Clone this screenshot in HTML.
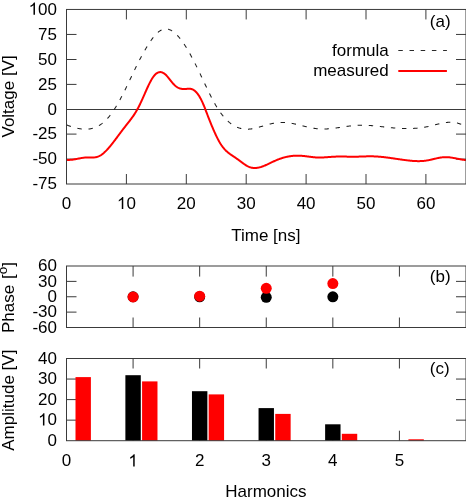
<!DOCTYPE html>
<html><head><meta charset="utf-8"><style>
html,body{margin:0;padding:0;background:#fff;}
body{width:466px;height:503px;overflow:hidden;}
svg{display:block;font-family:"Liberation Sans", sans-serif;fill:#000;will-change:transform;}
</style></head><body>
<svg width="466" height="503" viewBox="0 0 466 503">
<rect width="466" height="503" fill="#fff"/>
<line x1="66.50" y1="109.50" x2="466.00" y2="109.50" stroke="#3a3a3a" stroke-width="1.00"/>
<text x="32.43" y="189.30" text-anchor="start" font-size="17">-75</text>
<line x1="66.50" y1="159.10" x2="76.50" y2="159.10" stroke="#3a3a3a" stroke-width="1.00"/>
<line x1="456.00" y1="159.10" x2="466.00" y2="159.10" stroke="#3a3a3a" stroke-width="1.00"/>
<text x="32.43" y="164.40" text-anchor="start" font-size="17">-50</text>
<line x1="66.50" y1="134.10" x2="76.50" y2="134.10" stroke="#3a3a3a" stroke-width="1.00"/>
<line x1="456.00" y1="134.10" x2="466.00" y2="134.10" stroke="#3a3a3a" stroke-width="1.00"/>
<text x="32.43" y="139.40" text-anchor="start" font-size="17">-25</text>
<text x="47.55" y="114.70" text-anchor="start" font-size="17">0</text>
<line x1="66.50" y1="84.40" x2="76.50" y2="84.40" stroke="#3a3a3a" stroke-width="1.00"/>
<line x1="456.00" y1="84.40" x2="466.00" y2="84.40" stroke="#3a3a3a" stroke-width="1.00"/>
<text x="38.09" y="89.70" text-anchor="start" font-size="17">25</text>
<line x1="66.50" y1="59.50" x2="76.50" y2="59.50" stroke="#3a3a3a" stroke-width="1.00"/>
<line x1="456.00" y1="59.50" x2="466.00" y2="59.50" stroke="#3a3a3a" stroke-width="1.00"/>
<text x="38.09" y="64.80" text-anchor="start" font-size="17">50</text>
<line x1="66.50" y1="34.45" x2="76.50" y2="34.45" stroke="#3a3a3a" stroke-width="1.00"/>
<line x1="456.00" y1="34.45" x2="466.00" y2="34.45" stroke="#3a3a3a" stroke-width="1.00"/>
<text x="38.09" y="39.75" text-anchor="start" font-size="17">75</text>
<path d="M763,0 L583,0 L583,1147 Q518,1085 412.5,1023 Q307,961 223,930 L223,1104 Q374,1175 484.5,1273.5 Q595,1372 643,1466 L763,1466 Z" transform="translate(28.636,14.750) scale(0.008301,-0.008301)"/>
<text x="38.09" y="14.75" text-anchor="start" font-size="17">00</text>
<text x="61.77" y="209.10" text-anchor="start" font-size="17">0</text>
<line x1="126.40" y1="184.00" x2="126.40" y2="174.00" stroke="#3a3a3a" stroke-width="1.00"/>
<line x1="126.40" y1="9.45" x2="126.40" y2="19.45" stroke="#3a3a3a" stroke-width="1.00"/>
<path d="M763,0 L583,0 L583,1147 Q518,1085 412.5,1023 Q307,961 223,930 L223,1104 Q374,1175 484.5,1273.5 Q595,1372 643,1466 L763,1466 Z" transform="translate(116.945,209.100) scale(0.008301,-0.008301)"/>
<text x="126.40" y="209.10" text-anchor="start" font-size="17">0</text>
<line x1="186.30" y1="184.00" x2="186.30" y2="174.00" stroke="#3a3a3a" stroke-width="1.00"/>
<line x1="186.30" y1="9.45" x2="186.30" y2="19.45" stroke="#3a3a3a" stroke-width="1.00"/>
<text x="176.85" y="209.10" text-anchor="start" font-size="17">20</text>
<line x1="246.20" y1="184.00" x2="246.20" y2="174.00" stroke="#3a3a3a" stroke-width="1.00"/>
<line x1="246.20" y1="9.45" x2="246.20" y2="19.45" stroke="#3a3a3a" stroke-width="1.00"/>
<text x="236.75" y="209.10" text-anchor="start" font-size="17">30</text>
<line x1="306.10" y1="184.00" x2="306.10" y2="174.00" stroke="#3a3a3a" stroke-width="1.00"/>
<line x1="306.10" y1="9.45" x2="306.10" y2="19.45" stroke="#3a3a3a" stroke-width="1.00"/>
<text x="296.65" y="209.10" text-anchor="start" font-size="17">40</text>
<line x1="366.00" y1="184.00" x2="366.00" y2="174.00" stroke="#3a3a3a" stroke-width="1.00"/>
<line x1="366.00" y1="9.45" x2="366.00" y2="19.45" stroke="#3a3a3a" stroke-width="1.00"/>
<text x="356.55" y="209.10" text-anchor="start" font-size="17">50</text>
<line x1="425.90" y1="184.00" x2="425.90" y2="174.00" stroke="#3a3a3a" stroke-width="1.00"/>
<line x1="425.90" y1="9.45" x2="425.90" y2="19.45" stroke="#3a3a3a" stroke-width="1.00"/>
<text x="416.45" y="209.10" text-anchor="start" font-size="17">60</text>
<path d="M66.50,124.93 L67.00,125.11 L67.50,125.29 L68.00,125.46 L68.50,125.64 L69.00,125.81 L69.50,125.98 L70.00,126.15 L70.50,126.32 L71.00,126.48 L71.50,126.64 L72.00,126.80 L72.50,126.96 L73.00,127.11 L73.50,127.26 L74.00,127.40 L74.50,127.54 L75.00,127.68 L75.50,127.81 L76.00,127.94 L76.50,128.06 L77.00,128.18 L77.50,128.29 L78.00,128.40 L78.50,128.50 L79.00,128.59 L79.50,128.68 L80.00,128.77 L80.50,128.85 L81.00,128.92 L81.50,128.98 L82.00,129.04 L82.50,129.09 L83.00,129.14 L83.50,129.17 L84.00,129.20 L84.50,129.22 L85.00,129.23 L85.50,129.24 L86.00,129.24 L86.50,129.22 L87.00,129.20 L87.50,129.17 L88.00,129.13 L88.50,129.09 L89.00,129.03 L89.50,128.96 L90.00,128.88 L90.50,128.80 L91.00,128.70 L91.50,128.59 L92.00,128.47 L92.50,128.34 L93.00,128.20 L93.50,128.05 L94.00,127.89 L94.50,127.71 L95.00,127.52 L95.50,127.33 L96.00,127.12 L96.50,126.89 L97.00,126.66 L97.50,126.41 L98.00,126.15 L98.50,125.87 L99.00,125.58 L99.50,125.28 L100.00,124.97 L100.50,124.64 L101.00,124.30 L101.50,123.94 L102.00,123.57 L102.50,123.18 L103.00,122.78 L103.50,122.36 L104.00,121.93 L104.50,121.48 L105.00,121.02 L105.50,120.54 L106.00,120.05 L106.50,119.54 L107.00,119.01 L107.50,118.47 L108.00,117.91 L108.50,117.33 L109.00,116.73 L109.50,116.12 L110.00,115.49 L110.50,114.85 L111.00,114.18 L111.50,113.50 L112.00,112.80 L112.50,112.09 L113.00,111.36 L113.50,110.61 L114.00,109.85 L114.50,109.07 L115.00,108.28 L115.50,107.48 L116.00,106.66 L116.50,105.83 L117.00,104.98 L117.50,104.12 L118.00,103.25 L118.50,102.37 L119.00,101.47 L119.50,100.57 L120.00,99.65 L120.50,98.72 L121.00,97.79 L121.50,96.84 L122.00,95.88 L122.50,94.91 L123.00,93.94 L123.50,92.95 L124.00,91.96 L124.50,90.96 L125.00,89.95 L125.50,88.93 L126.00,87.91 L126.50,86.88 L127.00,85.85 L127.50,84.81 L128.00,83.77 L128.50,82.73 L129.00,81.68 L129.50,80.63 L130.00,79.58 L130.50,78.52 L131.00,77.47 L131.50,76.42 L132.00,75.37 L132.50,74.32 L133.00,73.27 L133.50,72.22 L134.00,71.18 L134.50,70.14 L135.00,69.11 L135.50,68.08 L136.00,67.05 L136.50,66.04 L137.00,65.03 L137.50,64.02 L138.00,63.02 L138.50,62.03 L139.00,61.05 L139.50,60.08 L140.00,59.11 L140.50,58.16 L141.00,57.21 L141.50,56.28 L142.00,55.35 L142.50,54.44 L143.00,53.53 L143.50,52.63 L144.00,51.75 L144.50,50.87 L145.00,50.00 L145.50,49.15 L146.00,48.30 L146.50,47.46 L147.00,46.63 L147.50,45.82 L148.00,45.01 L148.50,44.22 L149.00,43.44 L149.50,42.68 L150.00,41.93 L150.50,41.19 L151.00,40.47 L151.50,39.76 L152.00,39.08 L152.50,38.41 L153.00,37.75 L153.50,37.12 L154.00,36.50 L154.50,35.91 L155.00,35.33 L155.50,34.78 L156.00,34.24 L156.50,33.73 L157.00,33.25 L157.50,32.78 L158.00,32.34 L158.50,31.92 L159.00,31.53 L159.50,31.17 L160.00,30.83 L160.50,30.52 L161.00,30.23 L161.50,29.98 L162.00,29.75 L162.50,29.56 L163.00,29.39 L163.50,29.25 L164.00,29.13 L164.50,29.05 L165.00,28.99 L165.50,28.96 L166.00,28.96 L166.50,28.98 L167.00,29.03 L167.50,29.11 L168.00,29.21 L168.50,29.34 L169.00,29.49 L169.50,29.66 L170.00,29.86 L170.50,30.09 L171.00,30.33 L171.50,30.60 L172.00,30.90 L172.50,31.21 L173.00,31.55 L173.50,31.91 L174.00,32.29 L174.50,32.69 L175.00,33.12 L175.50,33.56 L176.00,34.03 L176.50,34.51 L177.00,35.01 L177.50,35.54 L178.00,36.08 L178.50,36.64 L179.00,37.22 L179.50,37.81 L180.00,38.43 L180.50,39.06 L181.00,39.70 L181.50,40.37 L182.00,41.05 L182.50,41.75 L183.00,42.46 L183.50,43.19 L184.00,43.93 L184.50,44.69 L185.00,45.46 L185.50,46.24 L186.00,47.04 L186.50,47.85 L187.00,48.68 L187.50,49.52 L188.00,50.37 L188.50,51.23 L189.00,52.10 L189.50,52.99 L190.00,53.88 L190.50,54.79 L191.00,55.71 L191.50,56.63 L192.00,57.57 L192.50,58.51 L193.00,59.47 L193.50,60.43 L194.00,61.40 L194.50,62.38 L195.00,63.37 L195.50,64.37 L196.00,65.37 L196.50,66.38 L197.00,67.39 L197.50,68.41 L198.00,69.44 L198.50,70.47 L199.00,71.51 L199.50,72.55 L200.00,73.59 L200.50,74.64 L201.00,75.70 L201.50,76.75 L202.00,77.81 L202.50,78.87 L203.00,79.93 L203.50,81.00 L204.00,82.06 L204.50,83.12 L205.00,84.18 L205.50,85.23 L206.00,86.29 L206.50,87.34 L207.00,88.39 L207.50,89.43 L208.00,90.46 L208.50,91.49 L209.00,92.52 L209.50,93.53 L210.00,94.54 L210.50,95.54 L211.00,96.53 L211.50,97.51 L212.00,98.47 L212.50,99.43 L213.00,100.37 L213.50,101.31 L214.00,102.23 L214.50,103.13 L215.00,104.02 L215.50,104.89 L216.00,105.75 L216.50,106.59 L217.00,107.42 L217.50,108.22 L218.00,109.01 L218.50,109.78 L219.00,110.54 L219.50,111.27 L220.00,111.99 L220.50,112.69 L221.00,113.37 L221.50,114.04 L222.00,114.69 L222.50,115.33 L223.00,115.94 L223.50,116.55 L224.00,117.13 L224.50,117.70 L225.00,118.25 L225.50,118.79 L226.00,119.31 L226.50,119.82 L227.00,120.31 L227.50,120.79 L228.00,121.25 L228.50,121.70 L229.00,122.13 L229.50,122.55 L230.00,122.95 L230.50,123.34 L231.00,123.72 L231.50,124.08 L232.00,124.43 L232.50,124.76 L233.00,125.08 L233.50,125.39 L234.00,125.68 L234.50,125.97 L235.00,126.23 L235.50,126.49 L236.00,126.73 L236.50,126.96 L237.00,127.18 L237.50,127.39 L238.00,127.58 L238.50,127.77 L239.00,127.94 L239.50,128.10 L240.00,128.24 L240.50,128.38 L241.00,128.51 L241.50,128.62 L242.00,128.73 L242.50,128.82 L243.00,128.90 L243.50,128.97 L244.00,129.04 L244.50,129.09 L245.00,129.13 L245.50,129.16 L246.00,129.19 L246.50,129.20 L247.00,129.21 L247.50,129.20 L248.00,129.19 L248.50,129.16 L249.00,129.13 L249.50,129.09 L250.00,129.05 L250.50,128.99 L251.00,128.93 L251.50,128.86 L252.00,128.78 L252.50,128.70 L253.00,128.61 L253.50,128.51 L254.00,128.41 L254.50,128.31 L255.00,128.19 L255.50,128.08 L256.00,127.96 L256.50,127.83 L257.00,127.70 L257.50,127.57 L258.00,127.44 L258.50,127.30 L259.00,127.16 L259.50,127.02 L260.00,126.87 L260.50,126.72 L261.00,126.58 L261.50,126.43 L262.00,126.28 L262.50,126.13 L263.00,125.98 L263.50,125.82 L264.00,125.67 L264.50,125.52 L265.00,125.38 L265.50,125.23 L266.00,125.08 L266.50,124.94 L267.00,124.80 L267.50,124.66 L268.00,124.52 L268.50,124.39 L269.00,124.26 L269.50,124.13 L270.00,124.01 L270.50,123.89 L271.00,123.78 L271.50,123.67 L272.00,123.56 L272.50,123.46 L273.00,123.37 L273.50,123.28 L274.00,123.19 L274.50,123.11 L275.00,123.03 L275.50,122.96 L276.00,122.89 L276.50,122.83 L277.00,122.77 L277.50,122.72 L278.00,122.67 L278.50,122.63 L279.00,122.59 L279.50,122.56 L280.00,122.53 L280.50,122.50 L281.00,122.49 L281.50,122.48 L282.00,122.47 L282.50,122.47 L283.00,122.47 L283.50,122.48 L284.00,122.49 L284.50,122.51 L285.00,122.54 L285.50,122.57 L286.00,122.61 L286.50,122.65 L287.00,122.70 L287.50,122.75 L288.00,122.80 L288.50,122.87 L289.00,122.93 L289.50,123.00 L290.00,123.08 L290.50,123.15 L291.00,123.24 L291.50,123.32 L292.00,123.41 L292.50,123.50 L293.00,123.60 L293.50,123.70 L294.00,123.80 L294.50,123.90 L295.00,124.01 L295.50,124.12 L296.00,124.23 L296.50,124.34 L297.00,124.45 L297.50,124.57 L298.00,124.69 L298.50,124.81 L299.00,124.93 L299.50,125.05 L300.00,125.17 L300.50,125.30 L301.00,125.42 L301.50,125.54 L302.00,125.67 L302.50,125.79 L303.00,125.92 L303.50,126.04 L304.00,126.16 L304.50,126.29 L305.00,126.41 L305.50,126.53 L306.00,126.65 L306.50,126.77 L307.00,126.89 L307.50,127.01 L308.00,127.12 L308.50,127.23 L309.00,127.35 L309.50,127.45 L310.00,127.56 L310.50,127.67 L311.00,127.77 L311.50,127.87 L312.00,127.96 L312.50,128.05 L313.00,128.14 L313.50,128.23 L314.00,128.31 L314.50,128.39 L315.00,128.46 L315.50,128.53 L316.00,128.60 L316.50,128.66 L317.00,128.72 L317.50,128.77 L318.00,128.82 L318.50,128.86 L319.00,128.90 L319.50,128.93 L320.00,128.96 L320.50,128.98 L321.00,129.00 L321.50,129.01 L322.00,129.02 L322.50,129.03 L323.00,129.03 L323.50,129.03 L324.00,129.02 L324.50,129.01 L325.00,129.00 L325.50,128.98 L326.00,128.96 L326.50,128.94 L327.00,128.91 L327.50,128.88 L328.00,128.85 L328.50,128.81 L329.00,128.77 L329.50,128.73 L330.00,128.69 L330.50,128.64 L331.00,128.59 L331.50,128.54 L332.00,128.49 L332.50,128.43 L333.00,128.37 L333.50,128.31 L334.00,128.25 L334.50,128.19 L335.00,128.13 L335.50,128.06 L336.00,127.99 L336.50,127.92 L337.00,127.85 L337.50,127.78 L338.00,127.71 L338.50,127.64 L339.00,127.56 L339.50,127.49 L340.00,127.42 L340.50,127.34 L341.00,127.26 L341.50,127.19 L342.00,127.11 L342.50,127.04 L343.00,126.96 L343.50,126.89 L344.00,126.81 L344.50,126.74 L345.00,126.66 L345.50,126.59 L346.00,126.52 L346.50,126.44 L347.00,126.37 L347.50,126.30 L348.00,126.23 L348.50,126.17 L349.00,126.10 L349.50,126.03 L350.00,125.97 L350.50,125.91 L351.00,125.85 L351.50,125.79 L352.00,125.74 L352.50,125.68 L353.00,125.63 L353.50,125.58 L354.00,125.53 L354.50,125.49 L355.00,125.45 L355.50,125.41 L356.00,125.37 L356.50,125.34 L357.00,125.31 L357.50,125.28 L358.00,125.25 L358.50,125.23 L359.00,125.22 L359.50,125.20 L360.00,125.19 L360.50,125.18 L361.00,125.17 L361.50,125.17 L362.00,125.17 L362.50,125.17 L363.00,125.18 L363.50,125.19 L364.00,125.20 L364.50,125.21 L365.00,125.23 L365.50,125.24 L366.00,125.26 L366.50,125.29 L367.00,125.31 L367.50,125.34 L368.00,125.37 L368.50,125.40 L369.00,125.43 L369.50,125.46 L370.00,125.50 L370.50,125.54 L371.00,125.57 L371.50,125.62 L372.00,125.66 L372.50,125.70 L373.00,125.75 L373.50,125.79 L374.00,125.84 L374.50,125.89 L375.00,125.94 L375.50,125.99 L376.00,126.04 L376.50,126.09 L377.00,126.15 L377.50,126.20 L378.00,126.25 L378.50,126.31 L379.00,126.37 L379.50,126.42 L380.00,126.48 L380.50,126.54 L381.00,126.59 L381.50,126.65 L382.00,126.71 L382.50,126.77 L383.00,126.82 L383.50,126.88 L384.00,126.94 L384.50,127.00 L385.00,127.06 L385.50,127.11 L386.00,127.17 L386.50,127.23 L387.00,127.28 L387.50,127.34 L388.00,127.39 L388.50,127.45 L389.00,127.50 L389.50,127.55 L390.00,127.60 L390.50,127.65 L391.00,127.70 L391.50,127.75 L392.00,127.80 L392.50,127.85 L393.00,127.89 L393.50,127.94 L394.00,127.98 L394.50,128.02 L395.00,128.06 L395.50,128.10 L396.00,128.14 L396.50,128.17 L397.00,128.21 L397.50,128.24 L398.00,128.27 L398.50,128.30 L399.00,128.33 L399.50,128.36 L400.00,128.39 L400.50,128.41 L401.00,128.43 L401.50,128.46 L402.00,128.48 L402.50,128.49 L403.00,128.51 L403.50,128.52 L404.00,128.54 L404.50,128.55 L405.00,128.56 L405.50,128.56 L406.00,128.57 L406.50,128.57 L407.00,128.58 L407.50,128.58 L408.00,128.57 L408.50,128.57 L409.00,128.56 L409.50,128.55 L410.00,128.54 L410.50,128.53 L411.00,128.52 L411.50,128.50 L412.00,128.48 L412.50,128.46 L413.00,128.44 L413.50,128.41 L414.00,128.38 L414.50,128.35 L415.00,128.32 L415.50,128.28 L416.00,128.25 L416.50,128.21 L417.00,128.16 L417.50,128.12 L418.00,128.07 L418.50,128.02 L419.00,127.97 L419.50,127.91 L420.00,127.86 L420.50,127.80 L421.00,127.73 L421.50,127.67 L422.00,127.60 L422.50,127.53 L423.00,127.45 L423.50,127.37 L424.00,127.29 L424.50,127.21 L425.00,127.13 L425.50,127.04 L426.00,126.95 L426.50,126.85 L427.00,126.75 L427.50,126.65 L428.00,126.55 L428.50,126.44 L429.00,126.33 L429.50,126.22 L430.00,126.10 L430.50,125.99 L431.00,125.87 L431.50,125.74 L432.00,125.62 L432.50,125.50 L433.00,125.37 L433.50,125.24 L434.00,125.12 L434.50,124.99 L435.00,124.86 L435.50,124.73 L436.00,124.61 L436.50,124.48 L437.00,124.35 L437.50,124.23 L438.00,124.11 L438.50,123.98 L439.00,123.87 L439.50,123.75 L440.00,123.63 L440.50,123.52 L441.00,123.41 L441.50,123.31 L442.00,123.20 L442.50,123.10 L443.00,123.01 L443.50,122.92 L444.00,122.83 L444.50,122.75 L445.00,122.67 L445.50,122.60 L446.00,122.53 L446.50,122.47 L447.00,122.42 L447.50,122.37 L448.00,122.33 L448.50,122.29 L449.00,122.26 L449.50,122.24 L450.00,122.23 L450.50,122.22 L451.00,122.22 L451.50,122.23 L452.00,122.25 L452.50,122.28 L453.00,122.32 L453.50,122.36 L454.00,122.42 L454.50,122.48 L455.00,122.56 L455.50,122.64 L456.00,122.74 L456.50,122.84 L457.00,122.96 L457.50,123.09 L458.00,123.23 L458.50,123.38 L459.00,123.54 L459.50,123.72 L460.00,123.91 L460.50,124.11 L461.00,124.32 L461.50,124.55 L462.00,124.79 L462.50,125.04 L463.00,125.31 L463.50,125.59 L464.00,125.89 L464.50,126.20 L465.00,126.53 L465.50,126.87 L466.00,127.23" fill="none" stroke="#1e1e1e" stroke-width="1.05" stroke-dasharray="4.4 6.73" stroke-dashoffset="-0.3"/>
<path d="M66.50,159.81 L67.00,159.85 L67.50,159.88 L68.00,159.90 L68.50,159.91 L69.00,159.90 L69.50,159.89 L70.00,159.87 L70.50,159.84 L71.00,159.80 L71.50,159.75 L72.00,159.70 L72.50,159.64 L73.00,159.57 L73.50,159.50 L74.00,159.42 L74.50,159.34 L75.00,159.26 L75.50,159.17 L76.00,159.08 L76.50,158.98 L77.00,158.89 L77.50,158.79 L78.00,158.70 L78.50,158.60 L79.00,158.50 L79.50,158.41 L80.00,158.31 L80.50,158.22 L81.00,158.13 L81.50,158.05 L82.00,157.96 L82.50,157.88 L83.00,157.81 L83.50,157.74 L84.00,157.68 L84.50,157.62 L85.00,157.58 L85.50,157.53 L86.00,157.50 L86.50,157.47 L87.00,157.46 L87.50,157.45 L88.00,157.45 L88.50,157.45 L89.00,157.46 L89.50,157.47 L90.00,157.48 L90.50,157.49 L91.00,157.50 L91.50,157.50 L92.00,157.50 L92.50,157.50 L93.00,157.48 L93.50,157.46 L94.00,157.42 L94.50,157.38 L95.00,157.32 L95.50,157.24 L96.00,157.15 L96.50,157.04 L97.00,156.91 L97.50,156.76 L98.00,156.59 L98.50,156.39 L99.00,156.17 L99.50,155.93 L100.00,155.66 L100.50,155.37 L101.00,155.06 L101.50,154.73 L102.00,154.37 L102.50,154.00 L103.00,153.60 L103.50,153.19 L104.00,152.76 L104.50,152.31 L105.00,151.85 L105.50,151.37 L106.00,150.87 L106.50,150.36 L107.00,149.83 L107.50,149.29 L108.00,148.74 L108.50,148.18 L109.00,147.60 L109.50,147.02 L110.00,146.42 L110.50,145.81 L111.00,145.20 L111.50,144.58 L112.00,143.94 L112.50,143.31 L113.00,142.66 L113.50,142.01 L114.00,141.36 L114.50,140.70 L115.00,140.03 L115.50,139.37 L116.00,138.70 L116.50,138.03 L117.00,137.36 L117.50,136.69 L118.00,136.02 L118.50,135.34 L119.00,134.67 L119.50,134.01 L120.00,133.34 L120.50,132.67 L121.00,132.01 L121.50,131.34 L122.00,130.68 L122.50,130.02 L123.00,129.37 L123.50,128.71 L124.00,128.06 L124.50,127.41 L125.00,126.77 L125.50,126.12 L126.00,125.48 L126.50,124.85 L127.00,124.21 L127.50,123.58 L128.00,122.95 L128.50,122.31 L129.00,121.67 L129.50,121.03 L130.00,120.38 L130.50,119.73 L131.00,119.07 L131.50,118.40 L132.00,117.71 L132.50,117.02 L133.00,116.31 L133.50,115.58 L134.00,114.84 L134.50,114.08 L135.00,113.30 L135.50,112.51 L136.00,111.68 L136.50,110.84 L137.00,109.97 L137.50,109.07 L138.00,108.15 L138.50,107.20 L139.00,106.23 L139.50,105.23 L140.00,104.21 L140.50,103.17 L141.00,102.11 L141.50,101.03 L142.00,99.93 L142.50,98.82 L143.00,97.70 L143.50,96.56 L144.00,95.42 L144.50,94.28 L145.00,93.14 L145.50,92.00 L146.00,90.87 L146.50,89.74 L147.00,88.63 L147.50,87.54 L148.00,86.46 L148.50,85.40 L149.00,84.37 L149.50,83.36 L150.00,82.38 L150.50,81.43 L151.00,80.51 L151.50,79.63 L152.00,78.79 L152.50,78.00 L153.00,77.24 L153.50,76.54 L154.00,75.88 L154.50,75.28 L155.00,74.74 L155.50,74.24 L156.00,73.80 L156.50,73.41 L157.00,73.07 L157.50,72.79 L158.00,72.55 L158.50,72.36 L159.00,72.22 L159.50,72.13 L160.00,72.09 L160.50,72.09 L161.00,72.14 L161.50,72.24 L162.00,72.38 L162.50,72.56 L163.00,72.79 L163.50,73.06 L164.00,73.38 L164.50,73.73 L165.00,74.13 L165.50,74.57 L166.00,75.04 L166.50,75.56 L167.00,76.11 L167.50,76.68 L168.00,77.28 L168.50,77.90 L169.00,78.53 L169.50,79.18 L170.00,79.82 L170.50,80.47 L171.00,81.11 L171.50,81.74 L172.00,82.35 L172.50,82.95 L173.00,83.52 L173.50,84.07 L174.00,84.58 L174.50,85.06 L175.00,85.51 L175.50,85.93 L176.00,86.32 L176.50,86.68 L177.00,87.02 L177.50,87.32 L178.00,87.60 L178.50,87.85 L179.00,88.08 L179.50,88.28 L180.00,88.45 L180.50,88.61 L181.00,88.74 L181.50,88.84 L182.00,88.93 L182.50,88.99 L183.00,89.04 L183.50,89.06 L184.00,89.06 L184.50,89.05 L185.00,89.03 L185.50,88.99 L186.00,88.95 L186.50,88.90 L187.00,88.86 L187.50,88.82 L188.00,88.78 L188.50,88.76 L189.00,88.75 L189.50,88.76 L190.00,88.79 L190.50,88.85 L191.00,88.93 L191.50,89.05 L192.00,89.20 L192.50,89.39 L193.00,89.62 L193.50,89.90 L194.00,90.22 L194.50,90.58 L195.00,90.98 L195.50,91.43 L196.00,91.93 L196.50,92.47 L197.00,93.05 L197.50,93.68 L198.00,94.35 L198.50,95.06 L199.00,95.83 L199.50,96.64 L200.00,97.49 L200.50,98.39 L201.00,99.34 L201.50,100.33 L202.00,101.37 L202.50,102.45 L203.00,103.59 L203.50,104.76 L204.00,105.97 L204.50,107.22 L205.00,108.48 L205.50,109.77 L206.00,111.07 L206.50,112.38 L207.00,113.69 L207.50,114.99 L208.00,116.29 L208.50,117.58 L209.00,118.85 L209.50,120.12 L210.00,121.37 L210.50,122.62 L211.00,123.85 L211.50,125.06 L212.00,126.27 L212.50,127.46 L213.00,128.63 L213.50,129.79 L214.00,130.93 L214.50,132.05 L215.00,133.16 L215.50,134.25 L216.00,135.32 L216.50,136.37 L217.00,137.39 L217.50,138.39 L218.00,139.37 L218.50,140.32 L219.00,141.23 L219.50,142.12 L220.00,142.97 L220.50,143.79 L221.00,144.57 L221.50,145.32 L222.00,146.03 L222.50,146.71 L223.00,147.36 L223.50,147.97 L224.00,148.56 L224.50,149.13 L225.00,149.67 L225.50,150.18 L226.00,150.68 L226.50,151.15 L227.00,151.60 L227.50,152.04 L228.00,152.46 L228.50,152.87 L229.00,153.26 L229.50,153.64 L230.00,154.02 L230.50,154.38 L231.00,154.74 L231.50,155.09 L232.00,155.44 L232.50,155.78 L233.00,156.12 L233.50,156.45 L234.00,156.79 L234.50,157.12 L235.00,157.45 L235.50,157.79 L236.00,158.13 L236.50,158.47 L237.00,158.81 L237.50,159.16 L238.00,159.52 L238.50,159.88 L239.00,160.25 L239.50,160.62 L240.00,160.99 L240.50,161.37 L241.00,161.75 L241.50,162.12 L242.00,162.50 L242.50,162.87 L243.00,163.24 L243.50,163.60 L244.00,163.95 L244.50,164.30 L245.00,164.64 L245.50,164.97 L246.00,165.28 L246.50,165.58 L247.00,165.87 L247.50,166.14 L248.00,166.40 L248.50,166.64 L249.00,166.86 L249.50,167.06 L250.00,167.24 L250.50,167.40 L251.00,167.54 L251.50,167.66 L252.00,167.76 L252.50,167.84 L253.00,167.91 L253.50,167.96 L254.00,167.99 L254.50,168.00 L255.00,168.00 L255.50,167.99 L256.00,167.96 L256.50,167.92 L257.00,167.86 L257.50,167.79 L258.00,167.70 L258.50,167.61 L259.00,167.50 L259.50,167.38 L260.00,167.25 L260.50,167.11 L261.00,166.97 L261.50,166.81 L262.00,166.64 L262.50,166.46 L263.00,166.28 L263.50,166.09 L264.00,165.89 L264.50,165.69 L265.00,165.48 L265.50,165.26 L266.00,165.04 L266.50,164.82 L267.00,164.59 L267.50,164.36 L268.00,164.12 L268.50,163.88 L269.00,163.64 L269.50,163.40 L270.00,163.16 L270.50,162.92 L271.00,162.67 L271.50,162.43 L272.00,162.19 L272.50,161.95 L273.00,161.71 L273.50,161.48 L274.00,161.24 L274.50,161.02 L275.00,160.79 L275.50,160.57 L276.00,160.35 L276.50,160.14 L277.00,159.93 L277.50,159.73 L278.00,159.53 L278.50,159.34 L279.00,159.15 L279.50,158.96 L280.00,158.78 L280.50,158.61 L281.00,158.43 L281.50,158.27 L282.00,158.11 L282.50,157.95 L283.00,157.80 L283.50,157.65 L284.00,157.51 L284.50,157.38 L285.00,157.25 L285.50,157.12 L286.00,157.00 L286.50,156.88 L287.00,156.77 L287.50,156.67 L288.00,156.57 L288.50,156.47 L289.00,156.39 L289.50,156.30 L290.00,156.22 L290.50,156.15 L291.00,156.08 L291.50,156.02 L292.00,155.97 L292.50,155.92 L293.00,155.87 L293.50,155.83 L294.00,155.79 L294.50,155.76 L295.00,155.74 L295.50,155.72 L296.00,155.70 L296.50,155.69 L297.00,155.68 L297.50,155.68 L298.00,155.68 L298.50,155.69 L299.00,155.70 L299.50,155.71 L300.00,155.73 L300.50,155.76 L301.00,155.79 L301.50,155.82 L302.00,155.85 L302.50,155.89 L303.00,155.93 L303.50,155.98 L304.00,156.03 L304.50,156.08 L305.00,156.14 L305.50,156.20 L306.00,156.26 L306.50,156.32 L307.00,156.39 L307.50,156.45 L308.00,156.52 L308.50,156.58 L309.00,156.65 L309.50,156.72 L310.00,156.78 L310.50,156.85 L311.00,156.91 L311.50,156.97 L312.00,157.04 L312.50,157.09 L313.00,157.15 L313.50,157.21 L314.00,157.26 L314.50,157.30 L315.00,157.35 L315.50,157.39 L316.00,157.43 L316.50,157.46 L317.00,157.48 L317.50,157.50 L318.00,157.52 L318.50,157.53 L319.00,157.54 L319.50,157.54 L320.00,157.54 L320.50,157.53 L321.00,157.52 L321.50,157.51 L322.00,157.49 L322.50,157.47 L323.00,157.45 L323.50,157.42 L324.00,157.40 L324.50,157.37 L325.00,157.34 L325.50,157.30 L326.00,157.27 L326.50,157.23 L327.00,157.19 L327.50,157.16 L328.00,157.12 L328.50,157.08 L329.00,157.04 L329.50,157.00 L330.00,156.96 L330.50,156.92 L331.00,156.89 L331.50,156.85 L332.00,156.82 L332.50,156.78 L333.00,156.75 L333.50,156.72 L334.00,156.70 L334.50,156.67 L335.00,156.65 L335.50,156.63 L336.00,156.61 L336.50,156.60 L337.00,156.59 L337.50,156.58 L338.00,156.57 L338.50,156.56 L339.00,156.56 L339.50,156.55 L340.00,156.55 L340.50,156.55 L341.00,156.55 L341.50,156.56 L342.00,156.56 L342.50,156.56 L343.00,156.57 L343.50,156.58 L344.00,156.58 L344.50,156.59 L345.00,156.60 L345.50,156.61 L346.00,156.61 L346.50,156.62 L347.00,156.63 L347.50,156.64 L348.00,156.65 L348.50,156.66 L349.00,156.67 L349.50,156.67 L350.00,156.68 L350.50,156.69 L351.00,156.69 L351.50,156.70 L352.00,156.70 L352.50,156.70 L353.00,156.71 L353.50,156.71 L354.00,156.70 L354.50,156.70 L355.00,156.70 L355.50,156.69 L356.00,156.68 L356.50,156.68 L357.00,156.66 L357.50,156.65 L358.00,156.64 L358.50,156.63 L359.00,156.61 L359.50,156.60 L360.00,156.58 L360.50,156.56 L361.00,156.54 L361.50,156.53 L362.00,156.51 L362.50,156.49 L363.00,156.47 L363.50,156.46 L364.00,156.44 L364.50,156.42 L365.00,156.41 L365.50,156.39 L366.00,156.38 L366.50,156.37 L367.00,156.35 L367.50,156.34 L368.00,156.33 L368.50,156.33 L369.00,156.32 L369.50,156.32 L370.00,156.31 L370.50,156.31 L371.00,156.32 L371.50,156.32 L372.00,156.33 L372.50,156.34 L373.00,156.35 L373.50,156.36 L374.00,156.38 L374.50,156.40 L375.00,156.42 L375.50,156.45 L376.00,156.47 L376.50,156.50 L377.00,156.53 L377.50,156.57 L378.00,156.60 L378.50,156.64 L379.00,156.68 L379.50,156.72 L380.00,156.76 L380.50,156.81 L381.00,156.86 L381.50,156.90 L382.00,156.95 L382.50,157.01 L383.00,157.06 L383.50,157.11 L384.00,157.17 L384.50,157.23 L385.00,157.29 L385.50,157.35 L386.00,157.41 L386.50,157.47 L387.00,157.53 L387.50,157.60 L388.00,157.66 L388.50,157.73 L389.00,157.80 L389.50,157.86 L390.00,157.93 L390.50,158.00 L391.00,158.07 L391.50,158.14 L392.00,158.21 L392.50,158.29 L393.00,158.36 L393.50,158.43 L394.00,158.50 L394.50,158.58 L395.00,158.65 L395.50,158.72 L396.00,158.80 L396.50,158.87 L397.00,158.94 L397.50,159.02 L398.00,159.09 L398.50,159.16 L399.00,159.24 L399.50,159.31 L400.00,159.38 L400.50,159.45 L401.00,159.52 L401.50,159.59 L402.00,159.66 L402.50,159.73 L403.00,159.80 L403.50,159.87 L404.00,159.94 L404.50,160.00 L405.00,160.07 L405.50,160.13 L406.00,160.20 L406.50,160.26 L407.00,160.32 L407.50,160.38 L408.00,160.44 L408.50,160.49 L409.00,160.55 L409.50,160.60 L410.00,160.66 L410.50,160.70 L411.00,160.75 L411.50,160.80 L412.00,160.84 L412.50,160.88 L413.00,160.92 L413.50,160.95 L414.00,160.99 L414.50,161.02 L415.00,161.04 L415.50,161.07 L416.00,161.09 L416.50,161.10 L417.00,161.12 L417.50,161.13 L418.00,161.13 L418.50,161.13 L419.00,161.13 L419.50,161.13 L420.00,161.12 L420.50,161.10 L421.00,161.09 L421.50,161.06 L422.00,161.03 L422.50,161.00 L423.00,160.96 L423.50,160.92 L424.00,160.88 L424.50,160.82 L425.00,160.77 L425.50,160.70 L426.00,160.63 L426.50,160.56 L427.00,160.48 L427.50,160.39 L428.00,160.30 L428.50,160.21 L429.00,160.11 L429.50,160.00 L430.00,159.90 L430.50,159.78 L431.00,159.67 L431.50,159.55 L432.00,159.44 L432.50,159.32 L433.00,159.20 L433.50,159.08 L434.00,158.96 L434.50,158.84 L435.00,158.72 L435.50,158.60 L436.00,158.48 L436.50,158.37 L437.00,158.25 L437.50,158.14 L438.00,158.04 L438.50,157.94 L439.00,157.84 L439.50,157.75 L440.00,157.66 L440.50,157.57 L441.00,157.50 L441.50,157.43 L442.00,157.37 L442.50,157.31 L443.00,157.26 L443.50,157.22 L444.00,157.19 L444.50,157.17 L445.00,157.15 L445.50,157.15 L446.00,157.15 L446.50,157.16 L447.00,157.18 L447.50,157.21 L448.00,157.24 L448.50,157.28 L449.00,157.32 L449.50,157.37 L450.00,157.43 L450.50,157.49 L451.00,157.56 L451.50,157.63 L452.00,157.70 L452.50,157.78 L453.00,157.87 L453.50,157.95 L454.00,158.04 L454.50,158.13 L455.00,158.23 L455.50,158.33 L456.00,158.42 L456.50,158.52 L457.00,158.63 L457.50,158.73 L458.00,158.83 L458.50,158.93 L459.00,159.04 L459.50,159.14 L460.00,159.24 L460.50,159.34 L461.00,159.43 L461.50,159.52 L462.00,159.60 L462.50,159.68 L463.00,159.75 L463.50,159.81 L464.00,159.86 L464.50,159.91 L465.00,159.94 L465.50,159.96 L466.00,159.97" fill="none" stroke="#ff0000" stroke-width="2.0" stroke-linejoin="round"/>
<rect x="66.50" y="9.45" width="399.50" height="174.55" fill="none" stroke="#3a3a3a" stroke-width="1.00"/>
<text x="388.80" y="55.50" text-anchor="end" font-size="17">formula</text>
<text x="388.80" y="76.00" text-anchor="end" font-size="17">measured</text>
<line x1="398.30" y1="50.50" x2="446.90" y2="50.50" stroke="#2a2a2a" stroke-width="1.00" stroke-dasharray="4.5 6.7"/>
<line x1="398.30" y1="70.90" x2="446.90" y2="70.90" stroke="#ff0000" stroke-width="2.00"/>
<text x="429.80" y="26.70" text-anchor="start" font-size="17">(a)</text>
<text x="265.90" y="240.50" text-anchor="middle" font-size="17">Time [ns]</text>
<text transform="translate(14.2,96.4) rotate(-90)" text-anchor="middle" font-size="17">Voltage [V]</text>
<text x="38.09" y="271.30" text-anchor="start" font-size="17">60</text>
<line x1="66.50" y1="281.38" x2="76.50" y2="281.38" stroke="#3a3a3a" stroke-width="1.00"/>
<line x1="456.00" y1="281.38" x2="466.00" y2="281.38" stroke="#3a3a3a" stroke-width="1.00"/>
<text x="38.09" y="286.68" text-anchor="start" font-size="17">30</text>
<line x1="66.50" y1="296.75" x2="76.50" y2="296.75" stroke="#3a3a3a" stroke-width="1.00"/>
<line x1="456.00" y1="296.75" x2="466.00" y2="296.75" stroke="#3a3a3a" stroke-width="1.00"/>
<text x="47.55" y="302.05" text-anchor="start" font-size="17">0</text>
<line x1="66.50" y1="312.12" x2="76.50" y2="312.12" stroke="#3a3a3a" stroke-width="1.00"/>
<line x1="456.00" y1="312.12" x2="466.00" y2="312.12" stroke="#3a3a3a" stroke-width="1.00"/>
<text x="32.43" y="317.43" text-anchor="start" font-size="17">-30</text>
<text x="32.43" y="332.80" text-anchor="start" font-size="17">-60</text>
<line x1="133.08" y1="327.50" x2="133.08" y2="317.50" stroke="#3a3a3a" stroke-width="1.00"/>
<line x1="133.08" y1="266.00" x2="133.08" y2="276.60" stroke="#3a3a3a" stroke-width="1.00"/>
<line x1="199.67" y1="327.50" x2="199.67" y2="317.50" stroke="#3a3a3a" stroke-width="1.00"/>
<line x1="199.67" y1="266.00" x2="199.67" y2="276.60" stroke="#3a3a3a" stroke-width="1.00"/>
<line x1="266.25" y1="327.50" x2="266.25" y2="317.50" stroke="#3a3a3a" stroke-width="1.00"/>
<line x1="266.25" y1="266.00" x2="266.25" y2="276.60" stroke="#3a3a3a" stroke-width="1.00"/>
<line x1="332.83" y1="327.50" x2="332.83" y2="317.50" stroke="#3a3a3a" stroke-width="1.00"/>
<line x1="332.83" y1="266.00" x2="332.83" y2="276.60" stroke="#3a3a3a" stroke-width="1.00"/>
<line x1="399.42" y1="327.50" x2="399.42" y2="317.50" stroke="#3a3a3a" stroke-width="1.00"/>
<line x1="399.42" y1="266.00" x2="399.42" y2="276.60" stroke="#3a3a3a" stroke-width="1.00"/>
<circle cx="133.08" cy="296.80" r="5.50" fill="#000"/>
<circle cx="199.67" cy="296.80" r="5.50" fill="#000"/>
<circle cx="266.25" cy="297.30" r="5.50" fill="#000"/>
<circle cx="332.83" cy="296.80" r="5.50" fill="#000"/>
<circle cx="133.08" cy="296.90" r="5.50" fill="#ff0000"/>
<circle cx="199.67" cy="296.20" r="5.50" fill="#ff0000"/>
<circle cx="266.25" cy="288.30" r="5.50" fill="#ff0000"/>
<circle cx="332.83" cy="283.60" r="5.50" fill="#ff0000"/>
<rect x="66.50" y="266.00" width="399.50" height="61.50" fill="none" stroke="#3a3a3a" stroke-width="1.00"/>
<text x="429.80" y="281.60" text-anchor="start" font-size="17">(b)</text>
<text transform="translate(13.8,333.0) rotate(-90)" text-anchor="start" font-size="17">Phase<tspan dx="1.0"> [</tspan><tspan font-size="13.5" dy="-7">o</tspan><tspan dy="7">]</tspan></text>
<text x="38.09" y="363.80" text-anchor="start" font-size="17">40</text>
<line x1="66.50" y1="379.05" x2="76.50" y2="379.05" stroke="#3a3a3a" stroke-width="1.00"/>
<line x1="456.00" y1="379.05" x2="466.00" y2="379.05" stroke="#3a3a3a" stroke-width="1.00"/>
<text x="38.09" y="384.35" text-anchor="start" font-size="17">30</text>
<line x1="66.50" y1="399.60" x2="76.50" y2="399.60" stroke="#3a3a3a" stroke-width="1.00"/>
<line x1="456.00" y1="399.60" x2="466.00" y2="399.60" stroke="#3a3a3a" stroke-width="1.00"/>
<text x="38.09" y="404.90" text-anchor="start" font-size="17">20</text>
<line x1="66.50" y1="420.15" x2="76.50" y2="420.15" stroke="#3a3a3a" stroke-width="1.00"/>
<line x1="456.00" y1="420.15" x2="466.00" y2="420.15" stroke="#3a3a3a" stroke-width="1.00"/>
<path d="M763,0 L583,0 L583,1147 Q518,1085 412.5,1023 Q307,961 223,930 L223,1104 Q374,1175 484.5,1273.5 Q595,1372 643,1466 L763,1466 Z" transform="translate(38.091,425.450) scale(0.008301,-0.008301)"/>
<text x="47.55" y="425.45" text-anchor="start" font-size="17">0</text>
<text x="47.55" y="446.00" text-anchor="start" font-size="17">0</text>
<text x="61.77" y="466.40" text-anchor="start" font-size="17">0</text>
<line x1="133.08" y1="440.70" x2="133.08" y2="430.70" stroke="#3a3a3a" stroke-width="1.00"/>
<line x1="133.08" y1="358.50" x2="133.08" y2="368.50" stroke="#3a3a3a" stroke-width="1.00"/>
<path d="M763,0 L583,0 L583,1147 Q518,1085 412.5,1023 Q307,961 223,930 L223,1104 Q374,1175 484.5,1273.5 Q595,1372 643,1466 L763,1466 Z" transform="translate(128.356,466.400) scale(0.008301,-0.008301)"/>
<line x1="199.67" y1="440.70" x2="199.67" y2="430.70" stroke="#3a3a3a" stroke-width="1.00"/>
<line x1="199.67" y1="358.50" x2="199.67" y2="368.50" stroke="#3a3a3a" stroke-width="1.00"/>
<text x="194.94" y="466.40" text-anchor="start" font-size="17">2</text>
<line x1="266.25" y1="440.70" x2="266.25" y2="430.70" stroke="#3a3a3a" stroke-width="1.00"/>
<line x1="266.25" y1="358.50" x2="266.25" y2="368.50" stroke="#3a3a3a" stroke-width="1.00"/>
<text x="261.52" y="466.40" text-anchor="start" font-size="17">3</text>
<line x1="332.83" y1="440.70" x2="332.83" y2="430.70" stroke="#3a3a3a" stroke-width="1.00"/>
<line x1="332.83" y1="358.50" x2="332.83" y2="368.50" stroke="#3a3a3a" stroke-width="1.00"/>
<text x="328.11" y="466.40" text-anchor="start" font-size="17">4</text>
<line x1="399.42" y1="440.70" x2="399.42" y2="430.70" stroke="#3a3a3a" stroke-width="1.00"/>
<line x1="399.42" y1="358.50" x2="399.42" y2="368.50" stroke="#3a3a3a" stroke-width="1.00"/>
<text x="394.69" y="466.40" text-anchor="start" font-size="17">5</text>
<rect x="75.50" y="377.10" width="15.40" height="63.60" fill="#ff0000"/>
<rect x="125.38" y="375.20" width="15.40" height="65.50" fill="#000"/>
<rect x="142.08" y="381.40" width="15.40" height="59.30" fill="#ff0000"/>
<rect x="191.97" y="391.20" width="15.40" height="49.50" fill="#000"/>
<rect x="208.67" y="394.40" width="15.40" height="46.30" fill="#ff0000"/>
<rect x="258.55" y="408.10" width="15.40" height="32.60" fill="#000"/>
<rect x="275.25" y="413.90" width="15.40" height="26.80" fill="#ff0000"/>
<rect x="325.13" y="424.30" width="15.40" height="16.40" fill="#000"/>
<rect x="341.83" y="433.80" width="15.40" height="6.90" fill="#ff0000"/>
<rect x="408.42" y="439.30" width="15.40" height="1.40" fill="#ff0000"/>
<rect x="66.50" y="358.50" width="399.50" height="82.20" fill="none" stroke="#3a3a3a" stroke-width="1.00"/>
<text x="429.80" y="374.40" text-anchor="start" font-size="17">(c)</text>
<text x="265.90" y="497.10" text-anchor="middle" font-size="17">Harmonics</text>
<text transform="translate(14.0,400.2) rotate(-90)" text-anchor="middle" font-size="17">Amplitude [V]</text>
</svg>
</body></html>
